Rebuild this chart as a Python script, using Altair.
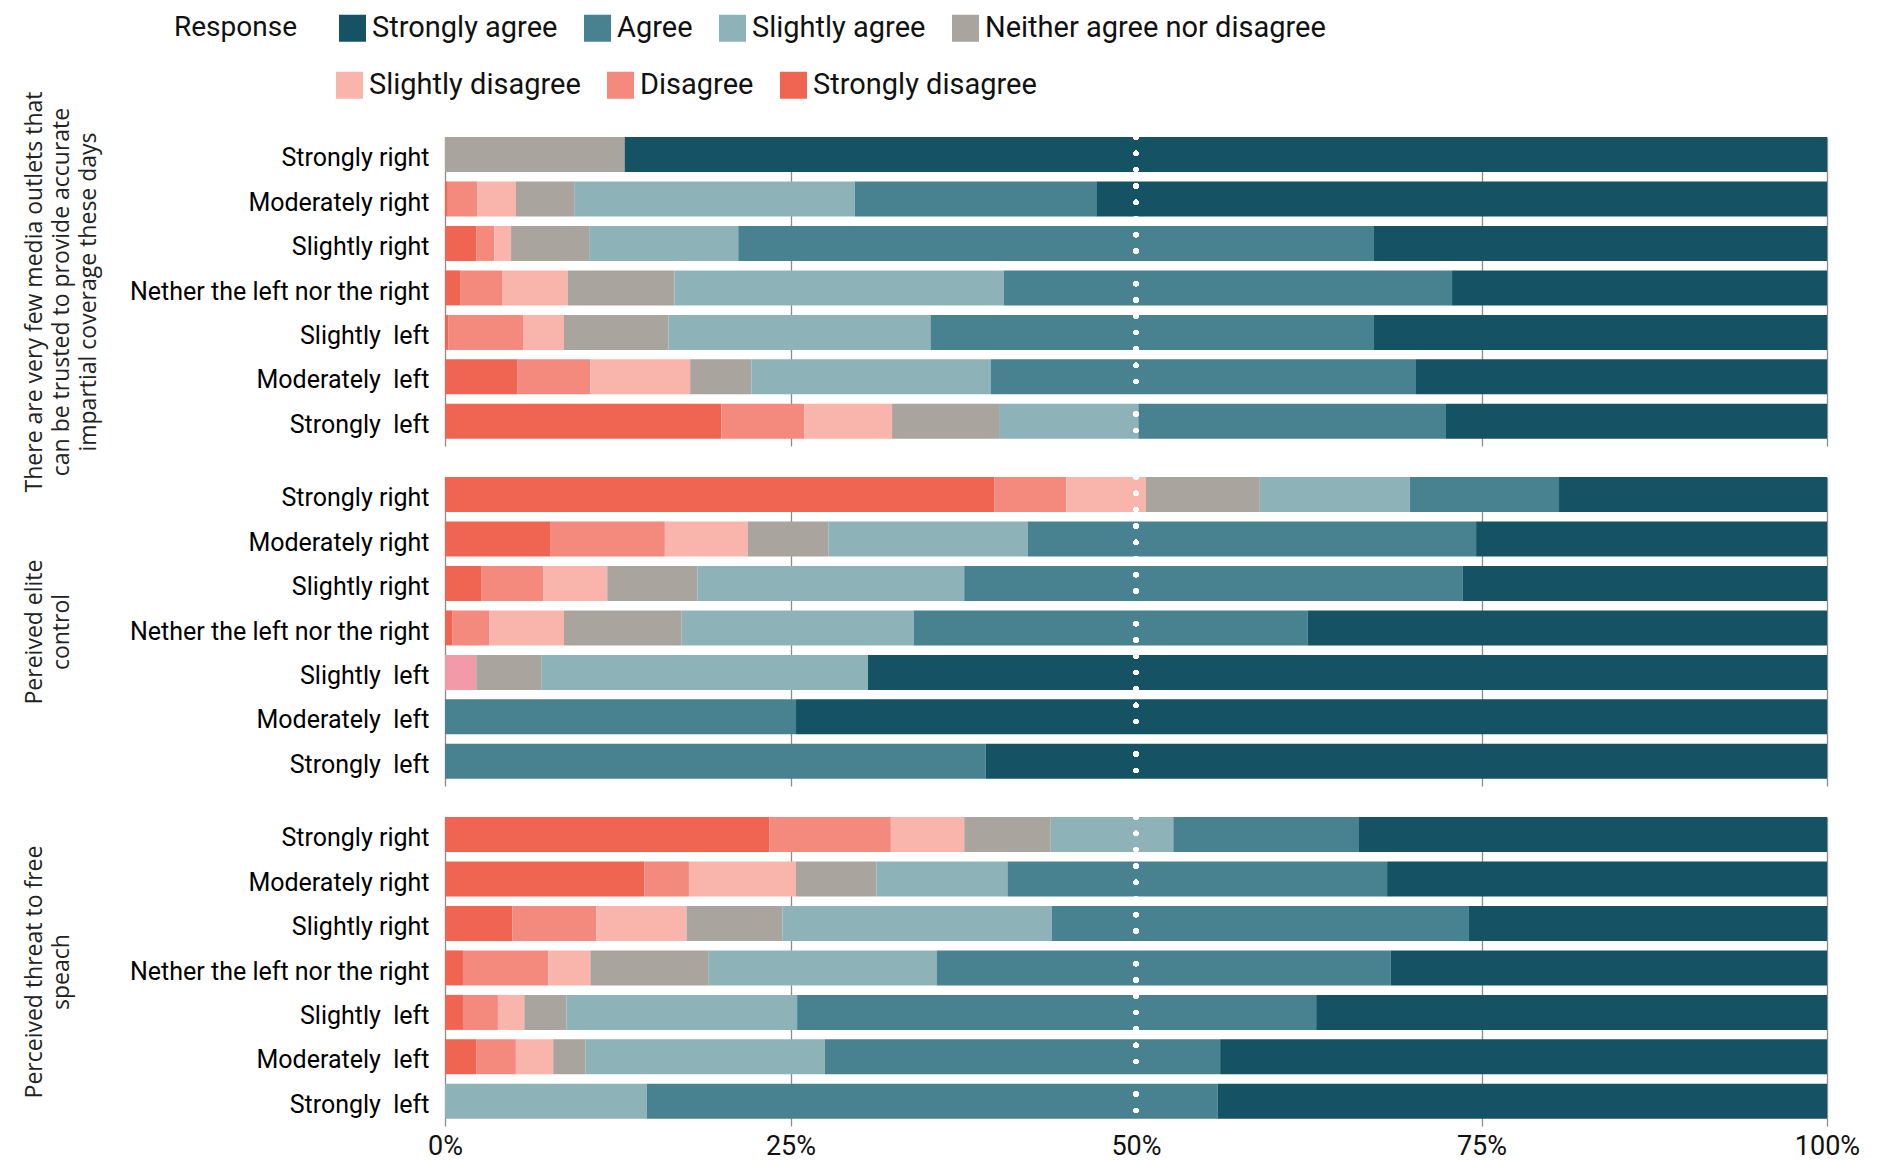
import altair as alt
import pandas as pd

# ---------------- data ----------------
RESPONSES = ["Strongly disagree", "Disagree", "Unlabelled", "Slightly disagree",
             "Neither agree nor disagree", "Slightly agree", "Agree", "Strongly agree"]
AGREE_SIDE = ["Strongly agree", "Agree", "Slightly agree", "Neither agree nor disagree"]
AGREE_COLORS = ["#155264", "#488290", "#8db3b9", "#a9a49e"]
DISAGREE_SIDE = ["Slightly disagree", "Disagree", "Strongly disagree", "Unlabelled"]
DISAGREE_COLORS = ["#f9b5ac", "#f48a7e", "#f06552", "#f29aa8"]

ORIENTATIONS = ["Strongly right", "Moderately right", "Slightly right",
                "Nether the left nor the right", "Slightly\u00a0\u00a0left",
                "Moderately\u00a0\u00a0left", "Strongly\u00a0\u00a0left"]

PANEL_TITLES = [
    ["There are very few media outlets that", "can be trusted to provide accurate",
     "impartial coverage these days"],
    ["Pereived elite", "control"],
    ["Perceived threat to free", "speach"],
]

# values per orientation, in RESPONSES order:
# [Strongly disagree, Disagree, Unlabelled, Slightly disagree, Neither, Slightly agree, Agree, Strongly agree]
MEDIA = [
    [0.0, 0.0, 0.0, 0.0, 13.0, 0.0, 0.0, 87.0],
    [0.2, 2.15, 0.0, 2.78, 4.26, 20.26, 17.48, 52.87],
    [2.26, 1.31, 0.0, 1.21, 5.65, 10.79, 46.0, 32.78],
    [1.13, 3.04, 0.0, 4.70, 7.74, 23.82, 32.44, 27.13],
    [0.26, 5.39, 0.0, 2.96, 7.56, 18.96, 32.09, 32.78],
    [5.22, 5.30, 0.0, 7.22, 4.43, 17.31, 30.78, 29.74],
    [20.0, 6.0, 0.0, 6.35, 7.74, 10.08, 22.26, 27.57],
]
ELITE = [
    [39.74, 5.22, 0.0, 5.74, 8.26, 10.87, 10.78, 19.39],
    [7.65, 8.26, 0.0, 6.0, 5.83, 14.43, 32.44, 25.39],
    [2.61, 4.52, 0.0, 4.61, 6.52, 19.31, 36.08, 26.35],
    [0.52, 2.70, 0.0, 5.39, 8.52, 16.78, 28.52, 37.57],
    [0.0, 0.0, 2.26, 0.0, 4.70, 23.65, 0.0, 69.39],
    [0.0, 0.0, 0.0, 0.0, 0.0, 0.0, 25.4, 74.6],
    [0.0, 0.0, 0.0, 0.0, 0.0, 0.0, 39.13, 60.87],
]
SPEECH = [
    [23.48, 8.78, 0.0, 5.31, 6.26, 8.87, 13.39, 33.91],
    [14.43, 3.22, 0.0, 7.74, 5.83, 9.48, 27.47, 31.83],
    [4.87, 6.09, 0.0, 6.52, 6.95, 19.48, 30.18, 25.91],
    [1.30, 6.18, 0.0, 3.04, 8.52, 16.53, 32.86, 31.57],
    [1.30, 2.53, 0.0, 1.91, 3.04, 16.70, 37.56, 36.96],
    [2.26, 2.87, 0.0, 2.70, 2.34, 17.31, 28.61, 43.91],
    [0.0, 0.0, 0.0, 0.0, 0.0, 14.61, 41.30, 44.09],
]
PANEL_VALUES = [MEDIA, ELITE, SPEECH]

rows = []
for p, table in enumerate(PANEL_VALUES):
    for o, vals in zip(ORIENTATIONS, table):
        for r, (resp, v) in enumerate(zip(RESPONSES, vals)):
            if v > 0:
                rows.append({"panel": p, "orientation": o, "response": resp,
                             "value": v, "rank": r})
df = pd.DataFrame(rows)

# ---------------- style ----------------
LABEL_FONT = "Roboto"
TITLE_FONT = "Open Sans"
W, H = 1382, 309
GRID = "#8c8c8c"

common_legend = dict(
    orient="none", direction="horizontal",
    labelFont=LABEL_FONT, labelFontSize=29, labelColor="#111", labelOffset=5,
    labelLimit=500, symbolType="square", symbolSize=729, symbolStrokeWidth=0,
    symbolOpacity=1, columnPadding=25,
)
legend_agree = alt.Legend(
    legendX=-271, legendY=-123.5, values=AGREE_SIDE,
    title="Response", titleOrient="left", titleAnchor="start", titleBaseline="top",
    titleFont=LABEL_FONT, titleFontSize=28, titleFontWeight="normal",
    titleColor="#111", titlePadding=40, **common_legend,
)
legend_disagree = alt.Legend(
    legendX=-110, legendY=-66.5, values=DISAGREE_SIDE[:3], title=None,
    **common_legend,
)


def panel(i):
    last = i == len(PANEL_VALUES) - 1
    xaxis = alt.Axis(
        values=[0, 0.25, 0.5, 0.75, 1], format=".0%", title=None,
        grid=True, gridWidth=1.3,
        gridColor=alt.condition("datum.value == 0.5", alt.value("transparent"), alt.value(GRID)),
        domain=False, ticks=False, labels=last,
        labelFont=LABEL_FONT, labelFontSize=27, labelColor="#111",
        labelPadding=7, labelFlush=False,
    )
    yaxis = alt.Axis(
        title=PANEL_TITLES[i], titleFont=TITLE_FONT, titleFontSize=23,
        titleFontWeight="normal", titleColor="#222", titleAngle=270,
        titleAlign="center", titleBaseline="top", titleX=-422, titleY=H / 2,
        titleLineHeight=27, domain=False, ticks=False,
        labelFont=LABEL_FONT, labelFontSize=25, labelColor="#000",
        labelPadding=16, labelLimit=400,
    )
    x = alt.X("start:Q", scale=alt.Scale(domain=[0, 1], nice=False), axis=xaxis)
    y = alt.Y("orientation:N", sort=ORIENTATIONS,
              scale=alt.Scale(paddingInner=0.213, paddingOuter=0.08), axis=yaxis)

    base = (
        alt.Chart(df)
        .transform_filter(alt.datum.panel == i)
        .transform_joinaggregate(total="sum(value)", groupby=["orientation"])
        .transform_calculate(pct="datum.value / datum.total")
        .transform_window(end="sum(pct)", sort=[alt.SortField("rank")],
                          groupby=["orientation"], frame=[None, 0])
        .transform_calculate(start="datum.end - datum.pct")
    )
    agree = base.transform_filter(alt.datum.rank >= 4).mark_bar(yOffset=-3.6).encode(
        x=x, x2="end:Q", y=y,
        color=alt.Color("response:N",
                        scale=alt.Scale(domain=AGREE_SIDE, range=AGREE_COLORS),
                        legend=legend_agree),
    )
    disagree = base.transform_filter(alt.datum.rank <= 3).mark_bar(yOffset=-3.6).encode(
        x=x, x2="end:Q", y=y,
        fill=alt.Fill("response:N",
                      scale=alt.Scale(domain=DISAGREE_SIDE, range=DISAGREE_COLORS),
                      legend=legend_disagree),
    )
    rule = alt.Chart(df).transform_filter(alt.datum.panel == i).mark_rule(
        color="white", strokeWidth=5, strokeDash=[0, 16.3], strokeCap="round"
    ).encode(x=alt.datum(0.5))
    return alt.layer(disagree, agree, rule).properties(width=W, height=H)


chart = alt.vconcat(panel(0), panel(1), panel(2), spacing=31, bounds="flush").properties(
    padding={"left": 15, "top": 5, "right": 5, "bottom": 0}
).configure_view(stroke=None)

chart.save("out.html", embed_options={"renderer": "svg", "actions": False})
